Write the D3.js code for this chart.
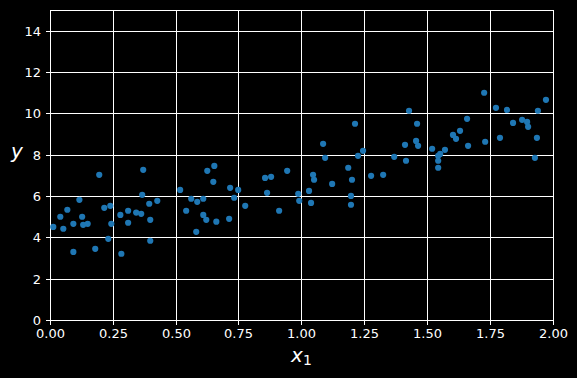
<!DOCTYPE html>
<html>
<head>
<meta charset="utf-8">
<script src="https://cdn.jsdelivr.net/npm/d3@7"></script>
<style>
  html, body { margin: 0; padding: 0; background: #000; }
  svg { display: block; }
  text { font-family: "DejaVu Sans", sans-serif; fill: #fff; }
</style>
</head>
<body>
<div id="chart"></div>
<script>
// scatter values
const xValues = [
  0.011, 0.039, 0.051, 0.067, 0.091, 0.091, 0.115, 0.126, 0.130, 0.148,
  0.178, 0.194, 0.214, 0.230, 0.238, 0.242, 0.278, 0.282, 0.309, 0.309,
  0.341, 0.361, 0.365, 0.369, 0.393, 0.425, 0.397, 0.397, 0.516, 0.540,
  0.560, 0.584, 0.608, 0.608, 0.620, 0.580, 0.624, 0.652, 0.648, 0.660,
  0.711, 0.715, 0.731, 0.747, 0.775, 0.854, 0.878, 0.942, 0.862, 0.910,
  0.986, 0.990, 1.029, 1.037, 1.045, 1.049, 1.085, 1.093, 1.121, 1.185,
  1.200, 1.196, 1.196, 1.212, 1.224, 1.244, 1.276, 1.324, 1.368, 1.411,
  1.415, 1.427, 1.459, 1.455, 1.463, 1.519, 1.543, 1.551, 1.570, 1.543,
  1.543, 1.602, 1.614, 1.630, 1.658, 1.662, 1.726, 1.730, 1.773, 1.817,
  1.789, 1.841, 1.877, 1.897, 1.901, 1.940, 1.936, 1.928, 1.972
];
const yValues = [
  4.53, 5.02, 4.44, 5.36, 4.68, 3.32, 5.84, 5.02, 4.63, 4.68,
  3.47, 7.05, 5.45, 3.95, 5.55, 4.68, 5.11, 3.23, 5.31, 4.73,
  5.22, 5.16, 6.08, 7.29, 5.65, 5.79, 4.87, 3.86, 6.32, 5.31,
  5.89, 5.74, 5.89, 5.11, 4.87, 4.29, 7.24, 7.48, 6.71, 4.78,
  4.92, 6.42, 5.94, 6.32, 5.55, 6.90, 6.95, 7.24, 6.18, 5.31,
  6.13, 5.79, 6.27, 5.69, 7.05, 6.81, 8.55, 7.87, 6.61, 7.39,
  6.81, 6.03, 5.60, 9.52, 7.97, 8.21, 7.00, 7.05, 7.92, 8.50,
  7.73, 10.15, 9.52, 8.69, 8.45, 8.31, 7.97, 8.06, 8.26, 7.73,
  7.39, 8.98, 8.79, 9.18, 9.76, 8.45, 11.02, 8.65, 10.29, 10.19,
  8.84, 9.56, 9.71, 9.61, 9.37, 10.15, 8.84, 7.87, 10.68
];
const xTicks = [0, 0.25, 0.5, 0.75, 1, 1.25, 1.5, 1.75, 2];
const yTicks = [0, 2, 4, 6, 8, 10, 12, 14];

const w = 577, h = 378;
const margin = {top: 10.5, right: 24, bottom: 57.5, left: 50.5};

const svg = d3.select("#chart").append("svg")
  .attr("width", w)
  .attr("height", h);

svg.append("rect").attr("width", w).attr("height", h).attr("fill", "#000");

const x = d3.scaleLinear().domain([0, 2]).range([margin.left, w - margin.right]);
const y = d3.scaleLinear().domain([0, 15]).range([h - margin.bottom, margin.top]);

// snap to pixel centres so the white lines stay crisp
const sx = d => Math.round(x(d) - 0.5) + 0.5;
const sy = d => Math.round(y(d) - 0.5) + 0.5;

// grid
svg.append("g").selectAll("line").data(xTicks).join("line")
  .attr("x1", sx).attr("x2", sx)
  .attr("y1", sy(0)).attr("y2", sy(15))
  .attr("stroke", "#fff").attr("stroke-width", 1);
svg.append("g").selectAll("line").data(yTicks).join("line")
  .attr("x1", sx(0)).attr("x2", sx(2))
  .attr("y1", sy).attr("y2", sy)
  .attr("stroke", "#fff").attr("stroke-width", 1);

// frame
svg.append("rect")
  .attr("x", sx(0)).attr("y", sy(15))
  .attr("width", sx(2) - sx(0)).attr("height", sy(0) - sy(15))
  .attr("fill", "none").attr("stroke", "#fff").attr("stroke-width", 1);

// axes
const xAxis = svg.append("g")
  .attr("transform", "translate(0," + sy(0) + ")")
  .call(d3.axisBottom(x).tickValues(xTicks).tickFormat(d3.format(".2f")).tickSize(4.5).tickPadding(4));
const yAxis = svg.append("g")
  .attr("transform", "translate(" + sx(0) + ",0)")
  .call(d3.axisLeft(y).tickValues(yTicks).tickSize(4.5).tickPadding(5));

xAxis.selectAll(".tick").attr("transform", d => "translate(" + sx(d) + ",0)");
yAxis.selectAll(".tick").attr("transform", d => "translate(0," + sy(d) + ")");

[xAxis, yAxis].forEach(a => {
  a.select(".domain").remove();
  a.selectAll(".tick line").attr("stroke", "#fff");
  a.selectAll(".tick text").attr("fill", "#fff")
    .style("font-family", "DejaVu Sans").style("font-size", "13px");
});

// points
const points = xValues.map((v, i) => [v, yValues[i]]);
svg.append("g").selectAll("circle").data(points).join("circle")
  .attr("cx", d => x(d[0]))
  .attr("cy", d => y(d[1]))
  .attr("r", 3.1)
  .attr("fill", "#1f77b4");

// labels
const xl = svg.append("text")
  .attr("x", 301.5).attr("y", 362)
  .attr("text-anchor", "middle")
  .style("font-size", "20px");
xl.append("tspan").style("font-style", "italic").text("x");
xl.append("tspan").attr("dy", 2.5).style("font-size", "14px").text("1");

svg.append("text")
  .attr("x", 17).attr("y", 157.5)
  .attr("text-anchor", "middle")
  .style("font-size", "20px")
  .style("font-style", "italic")
  .text("y");
</script>
</body>
</html>
